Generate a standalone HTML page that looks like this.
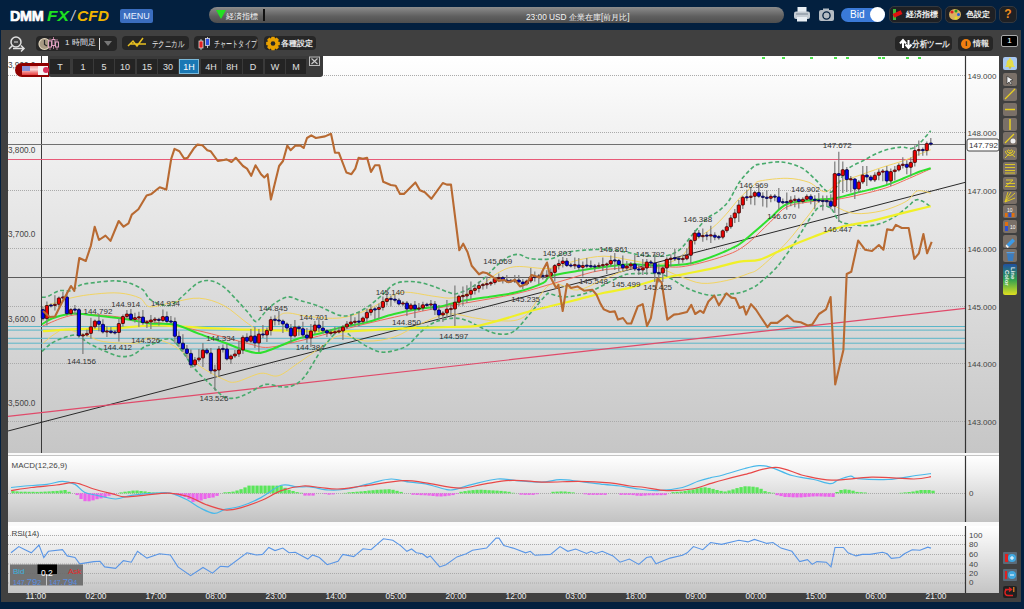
<!DOCTYPE html>
<html><head><meta charset="utf-8">
<style>
*{margin:0;padding:0;box-sizing:border-box}
html,body{width:1024px;height:609px;overflow:hidden;background:#03203f;font-family:"Liberation Sans",sans-serif}
.a{position:absolute}
#tb{left:1px;top:30px;width:1020px;height:572px;background:#404040}
#gap{left:8px;top:56px;width:991px;height:537px;background:#fafafa}
.panel{position:absolute;left:8px;width:991px}
#main{top:56px;height:397px;background:linear-gradient(#ffffff,#f4f4f4 15%,#c6c6c6)}
#macd{top:456px;height:66px;background:linear-gradient(#ffffff 0%,#f2f2f2 25%,#c2c2c2 100%)}
#rsi{top:526px;height:67px;background:linear-gradient(#ffffff 0%,#f0f0f0 25%,#c4c4c4 100%)}
.btn{position:absolute;background:#262626;border-radius:4px;color:#e8e8e8;font-size:10px;line-height:16px;white-space:nowrap;font-weight:bold}
.hb{position:absolute;background:#1e2024;border:1px solid #34383e;border-radius:5px;color:#f0f0f0;font-size:10px;white-space:nowrap;font-weight:bold}
.tf{position:absolute;top:59px;height:15px;width:20px;background:#242424;color:#e0e0e0;font-size:9px;line-height:16.5px;text-align:center}
.rt{position:absolute;left:1003px;width:14px;height:13px;background:#7a7068;border-radius:2px}
svg{position:absolute;left:0;top:0}
.ax{font-size:8.5px;fill:#333}
</style></head><body>
<!-- header -->
<div class="a" style="left:10px;top:6px;font-size:14.4px;font-weight:bold;line-height:20px;color:#fff;-webkit-text-stroke:0.7px #fff;letter-spacing:-0.3px">DMM</div>
<div class="a" style="left:47px;top:6px;font-size:14.4px;font-weight:bold;font-style:italic;line-height:20px;color:#1ee01e;transform:scaleX(1.2);transform-origin:left">FX</div>
<div class="a" style="left:71px;top:6px;font-size:14.4px;font-style:italic;line-height:20px;color:#c8c8d0">/</div>
<div class="a" style="left:77px;top:6px;font-size:14.4px;font-weight:bold;font-style:italic;line-height:20px;color:#f0b400;transform:scaleX(1.08);transform-origin:left">CFD</div>
<div class="a" style="left:120px;top:9px;width:33px;height:14px;background:#3a6dbf;border-radius:2px;color:#e8f0ff;font-size:9px;line-height:14px;text-align:center">MENU</div>
<div class="a" style="left:209px;top:7px;width:575px;height:16px;border-radius:8px;background:linear-gradient(#8c8c8c,#5e5e5e 60%,#4e4e4e);"></div>
<div class="a" style="left:216px;top:10px;width:0;height:0;border-left:5px solid transparent;border-right:5px solid transparent;border-top:9px solid #22e022"></div>
<div class="a" style="left:226px;top:11px;color:#f4f4f4;font-size:8px;line-height:12px">経済指標</div>
<div class="a" style="left:263px;top:9px;width:1.5px;height:12px;background:#111"></div>
<div class="a" style="left:526px;top:11px;color:#f4f4f4;font-size:8.3px;line-height:12px;white-space:nowrap">23:00 USD 企業在庫[前月比]</div>
<!-- printer -->
<svg width="1024" height="609" style="z-index:2">
<rect x="797.5" y="7" width="9" height="5" fill="#e8eef4"/>
<rect x="794" y="11.5" width="16" height="7.5" rx="2" fill="#c4ccd4"/>
<rect x="796" y="13.5" width="12" height="1" fill="#7a8694"/>
<rect x="797" y="17" width="10" height="4.5" fill="#e8eef4"/>
<rect x="819" y="10" width="15" height="11" rx="2" fill="#b4bcc4"/>
<rect x="823" y="8.5" width="6" height="2" fill="#b4bcc4"/>
<circle cx="826.5" cy="15.5" r="3.6" fill="none" stroke="#03203f" stroke-width="1.3"/>
<circle cx="826.5" cy="15.5" r="2" fill="#b4bcc4"/>
<ellipse cx="955" cy="14.5" rx="6" ry="5.5" fill="#d8b060"/>
<circle cx="952" cy="12" r="1.6" fill="#e02020"/><circle cx="956" cy="11" r="1.5" fill="#20a020"/><circle cx="958.5" cy="14.5" r="1.5" fill="#2060e0"/><circle cx="956" cy="18" r="1.5" fill="#e0e020"/>
</svg>
<!-- bid toggle -->
<div class="a" style="left:841px;top:8px;width:44px;height:14px;border-radius:7px;background:#3a7ad8;color:#fff;font-size:10px;line-height:14px;padding-left:9px">Bid</div>
<div class="a" style="left:870px;top:7px;width:15px;height:15px;border-radius:50%;background:#fff"></div>
<div class="hb" style="left:889px;top:6px;width:53px;height:17px;line-height:15px;padding-left:16px;font-size:8.2px">経済指標</div>
<div class="a" style="left:893px;top:9px;width:3px;height:11px;background:#3cb83c"></div>
<div class="a" style="left:893px;top:12px;width:9px;height:4px;background:#e01010;transform:rotate(-25deg)"></div>
<div class="hb" style="left:945px;top:6px;width:51px;height:17px;line-height:15px;padding-left:20px;font-size:8.2px">色設定</div>

<div class="hb" style="left:999px;top:6px;width:18px;height:17px;line-height:15px;text-align:center;color:#f08c1e;font-weight:bold;font-size:12px">?</div>

<div id="tb" class="a"></div>
<!-- toolbar -->
<svg width="1024" height="609" style="z-index:2">
<g fill="none" stroke="#e0e0e0" stroke-width="1.5">
<circle cx="16" cy="42" r="5"/><path d="M12.5 45.5L9 49M13 48.5H24M21 45.5L24 48.5L21 51.5"/><path d="M14 42H18" stroke-width="1"/>
</g>
</svg>
<div class="btn" style="left:36px;top:36px;width:81px;height:15px"></div>
<svg width="1024" height="609" style="z-index:3">
<circle cx="44.5" cy="44" r="5.5" fill="#a89a84" stroke="#e0d4bc" stroke-width="1.2"/>
<path d="M44.5 40V44.5L47 46" stroke="#2a2a2a" stroke-width="1.2" fill="none"/>
<path d="M50 38.5V50M53.5 37V49M57 39V50" stroke="#d890b0" stroke-width="0.8"/>
<rect x="48.5" y="41" width="3" height="6" fill="#2a2a2a" stroke="#e0a0c0" stroke-width="1"/>
<rect x="52" y="39.5" width="3" height="6" fill="#2a2a2a" stroke="#e0a0c0" stroke-width="1"/>
<rect x="55.5" y="42" width="3" height="5" fill="#2a2a2a" stroke="#e0a0c0" stroke-width="1"/>
</svg>
<div class="a" style="left:65px;top:36px;color:#e4e8f0;font-size:8px;line-height:14px;z-index:3;white-space:nowrap">1 時間足</div>
<div class="a" style="left:99px;top:38px;width:1px;height:12px;background:#ddd;z-index:3"></div>
<div class="a" style="left:104px;top:41px;width:0;height:0;border-left:4.5px solid transparent;border-right:4.5px solid transparent;border-top:5px solid #777;z-index:3"></div>
<div class="btn" style="left:122px;top:36px;width:67px;height:14px;padding-left:30px;font-size:8.5px;font-weight:normal"><span style="display:inline-block;transform:scaleX(0.72);transform-origin:left">テクニカル</span></div>
<svg width="1024" height="609" style="z-index:3"><path d="M128 46L133 41L137 46L143 38M130 44L146 44" stroke="#e8c020" stroke-width="1.5" fill="none"/>
<path d="M201 39V50M207.5 37V48" stroke="#ddd" stroke-width="0.8"/><rect x="199" y="41" width="4" height="7" fill="#e02020" stroke="#eee" stroke-width="0.7"/><rect x="205.5" y="38.5" width="4" height="7" fill="#3050e0" stroke="#eee" stroke-width="0.7"/>
<polygon points="279.83,41.97 279.83,45.03 277.50,45.67 277.72,45.15 278.91,47.25 276.75,49.41 274.65,48.22 275.17,48.00 274.53,50.33 271.47,50.33 270.83,48.00 271.35,48.22 269.25,49.41 267.09,47.25 268.28,45.15 268.50,45.67 266.17,45.03 266.17,41.97 268.50,41.33 268.28,41.85 267.09,39.75 269.25,37.59 271.35,38.78 270.83,39.00 271.47,36.67 274.53,36.67 275.17,39.00 274.65,38.78 276.75,37.59 278.91,39.75 277.72,41.85 277.50,41.33" fill="#e8a000"/><circle cx="273" cy="43.5" r="2.3" fill="#262626"/>
</svg>
<div class="btn" style="left:194px;top:36px;width:64px;height:14px;padding-left:20px;font-size:8.5px;font-weight:normal"><span style="display:inline-block;transform:scaleX(0.68);transform-origin:left">チャートタイプ</span></div>
<div class="btn" style="left:264px;top:36px;width:52px;height:14px;padding-left:17px;font-size:8px">各種設定</div>
<div class="btn" style="left:895px;top:36px;width:57px;height:15px;padding-left:17px;font-size:8.5px"><span style="display:inline-block;transform:scaleX(0.84);transform-origin:left">分析ツール</span></div>
<svg width="1024" height="609" style="z-index:3"><path d="M903 48V41M900 43.5L903 40L906 43.5M908.5 40V47M905.5 44.5L908.5 48L911.5 44.5" stroke="#fff" stroke-width="2" fill="none"/></svg>
<div class="btn" style="left:958px;top:36px;width:35px;height:15px;padding-left:15px;font-size:8px">情報</div>
<div class="a" style="left:961px;top:39px;width:10px;height:10px;border-radius:50%;background:#f08010;color:#222;font-size:8px;font-weight:bold;line-height:10px;text-align:center;z-index:3">i</div>
<div class="a" style="left:1001px;top:35px;width:17px;height:12px;background:#000;border:1.5px solid #aaa;border-radius:2px;color:#fff;font-size:8px;line-height:9px;text-align:center">1</div>

<div id="gap" class="a"></div>
<div class="a" style="left:8px;top:455px;width:991px;height:1px;background:#c4c4c4"></div>
<div id="main" class="panel"></div>
<div id="macd" class="panel"></div>
<div id="rsi" class="panel"></div>

<svg width="1024" height="609" viewBox="0 0 1024 609">
<!-- grid -->
<g stroke="#aaaaaa" stroke-width="1" stroke-dasharray="1 1">
<path d="M8 75.5H965M8 132.5H965M8 190.5H965M8 248.5H965M8 306.5H965M8 363.5H965M8 421.5H965"/>
<path d="M8 493.5H965M8 535.5H965M8 544.5H965M8 554.5H965M8 564H965M8 573.5H965M8 583H965"/>
</g>
<path d="M41.5 56V453" stroke="#3a3a3a" stroke-width="1"/>
<path d="M8 144.5H965" stroke="#707070" stroke-width="1"/>
<path d="M8 159.5H965" stroke="#e85a78" stroke-width="1"/>
<path d="M8 277.5H965" stroke="#5a5a5a" stroke-width="1.2"/>
<g stroke="#5ab6c8" stroke-width="1"><path d="M8 326.5H965M8 330.1H965M8 338.3H965M8 343.2H965M8 349H965"/></g>
<path d="M8 431L965 182.4" stroke="#2a2a2a" stroke-width="1"/>
<path d="M8 416.4L965 308.4" stroke="#e04a6a" stroke-width="1.2"/>
<!-- bands & MAs -->
<path d="M44.6 306.3C49.0 304.9 62.3 300.1 70.8 298.0C79.3 295.9 87.3 294.8 95.5 294.0C103.7 293.2 112.6 292.4 120.0 293.1C127.4 293.8 134.8 295.7 139.8 298.0C144.8 300.3 144.2 306.2 150.0 306.8C155.8 307.4 166.4 303.3 174.6 301.9C182.8 300.5 191.1 297.6 199.3 298.2C207.5 298.8 215.7 301.3 223.9 305.6C232.1 309.9 241.9 319.7 248.5 324.0C255.1 328.3 258.4 332.6 263.3 331.4C268.2 330.2 274.0 319.8 278.1 316.7C282.2 313.6 282.6 313.0 287.9 313.0C293.2 313.0 301.4 315.9 310.1 316.7C318.8 317.5 330.5 319.1 340.0 318.0C349.5 316.9 358.1 313.8 367.1 310.0C376.1 306.2 387.4 297.9 394.2 295.0C401.0 292.1 401.0 292.1 407.8 292.3C414.6 292.5 427.2 295.5 434.9 296.4C442.6 297.3 447.0 298.9 453.8 297.8C460.6 296.7 468.3 293.7 475.5 289.6C482.7 285.5 490.4 277.2 497.2 273.4C504.0 269.6 507.4 267.4 516.2 266.6C525.0 265.8 539.9 269.4 550.0 268.4C560.1 267.3 568.1 262.3 577.1 260.3C586.1 258.3 595.2 256.2 604.2 256.2C613.2 256.2 622.3 258.9 631.3 260.3C640.3 261.7 650.3 264.8 658.4 264.3C666.5 263.9 674.2 261.4 680.1 257.6C686.0 253.8 688.2 246.3 693.6 241.3C699.0 236.3 707.2 232.2 712.6 227.7C718.0 223.2 721.7 219.1 726.2 214.2C730.7 209.2 735.2 202.8 739.7 198.0C744.2 193.2 749.9 188.5 753.3 185.7C756.7 182.9 754.4 182.2 760.0 181.0C765.6 179.8 779.0 178.1 787.1 178.3C795.2 178.5 802.5 180.1 808.8 182.3C815.1 184.6 820.0 191.8 825.0 191.8C830.0 191.8 833.6 184.8 838.6 182.3C843.6 179.8 847.7 179.4 854.9 176.9C862.1 174.4 873.9 170.1 882.0 167.4C890.1 164.7 897.3 162.9 903.6 160.7C909.9 158.4 915.4 155.7 919.9 153.9C924.4 152.1 928.9 150.5 930.7 149.8" fill="none" stroke="#f2d462" stroke-width="1"/>
<path d="M43.0 343.2C44.9 341.7 50.6 336.5 54.4 334.2C58.2 331.9 60.4 329.0 65.9 329.3C71.4 329.6 81.0 333.8 87.3 335.8C93.6 337.9 95.5 340.4 103.7 341.6C111.9 342.8 128.8 343.8 136.5 343.2C144.2 342.6 143.7 337.5 150.0 338.0C156.3 338.5 166.4 341.6 174.6 346.2C182.8 350.8 191.1 360.3 199.3 365.9C207.5 371.4 217.8 376.8 223.9 379.5C230.1 382.2 230.0 382.9 236.2 381.9C242.3 380.9 253.8 374.3 260.8 373.3C267.8 372.3 271.9 377.5 278.1 375.8C284.3 374.1 290.4 368.3 297.8 363.4C305.2 358.5 315.4 350.8 322.4 346.2C329.4 341.6 332.6 336.5 340.0 335.7C347.4 334.9 358.1 340.9 367.1 341.1C376.1 341.3 385.2 339.9 394.2 337.0C403.2 334.1 412.3 327.3 421.3 323.5C430.3 319.7 439.4 314.9 448.4 314.0C457.4 313.1 467.4 317.0 475.5 318.1C483.6 319.2 489.1 321.0 497.2 320.8C505.3 320.6 515.5 322.7 524.3 316.7C533.1 310.7 541.2 289.1 550.0 284.7C558.8 280.2 568.1 290.9 577.1 290.0C586.1 289.1 595.2 282.8 604.2 279.2C613.2 275.6 622.3 270.2 631.3 268.4C640.3 266.6 650.3 267.0 658.4 268.4C666.5 269.8 672.9 274.0 680.1 276.5C687.3 279.0 694.1 282.6 701.8 283.3C709.5 284.0 718.5 282.2 726.2 280.6C733.9 279.0 742.2 276.0 747.8 273.8C753.4 271.6 753.5 273.0 760.0 267.7C766.5 262.4 779.0 250.8 787.1 242.0C795.2 233.2 802.9 222.1 808.8 214.9C814.7 207.7 817.8 200.0 822.3 198.6C826.8 197.2 830.5 204.2 835.9 206.7C841.3 209.2 847.2 212.8 854.9 213.5C862.6 214.2 873.4 212.8 882.0 210.8C890.6 208.8 900.4 204.6 906.3 201.3C912.2 198.0 913.1 192.3 917.2 191.0C921.3 189.7 928.5 192.8 930.7 193.2" fill="none" stroke="#f2d462" stroke-width="1"/>
<path d="M42.0 297.2C43.0 297.1 45.0 297.5 47.9 296.4C50.8 295.3 55.5 291.6 59.3 290.7C63.1 289.8 67.2 291.7 70.8 290.7C74.4 289.7 76.6 286.3 80.7 284.9C84.8 283.5 89.8 283.2 95.5 282.5C101.2 281.8 109.5 280.7 115.2 280.8C121.0 280.9 125.4 281.8 130.0 283.3C134.6 284.8 139.7 287.2 143.0 289.9C146.3 292.6 146.4 296.8 150.0 299.4C153.6 302.0 160.7 305.0 164.8 305.6C168.9 306.2 170.9 305.4 174.6 303.1C178.3 300.8 182.9 295.5 187.0 292.0C191.1 288.5 195.2 284.0 199.3 282.2C203.4 280.4 207.5 280.2 211.6 281.0C215.7 281.8 219.8 284.0 223.9 287.1C228.0 290.2 232.1 295.1 236.2 299.4C240.3 303.7 245.2 309.3 248.5 313.0C251.8 316.7 253.4 321.4 255.9 321.6C258.4 321.8 260.4 317.1 263.3 314.2C266.2 311.3 269.1 307.2 273.2 304.3C277.3 301.4 283.4 297.6 287.9 297.0C292.4 296.4 295.3 299.2 300.2 300.6C305.1 302.0 310.9 303.1 317.5 305.6C324.1 308.1 334.0 314.0 340.0 315.4C346.0 316.8 349.1 315.4 353.6 314.0C358.1 312.6 362.6 310.1 367.1 307.2C371.6 304.3 376.1 300.2 380.6 296.4C385.1 292.6 389.7 286.7 394.2 284.2C398.7 281.7 403.3 281.7 407.8 281.5C412.3 281.3 416.8 281.9 421.3 282.8C425.8 283.7 430.4 285.3 434.9 286.9C439.4 288.5 444.8 291.2 448.4 292.3C452.0 293.4 452.9 294.4 456.5 293.7C460.1 293.0 465.5 290.8 470.0 288.3C474.5 285.8 479.1 282.7 483.6 278.8C488.1 274.9 493.1 268.8 497.2 265.2C501.3 261.6 504.4 258.9 508.0 257.1C511.6 255.3 515.3 254.2 518.9 254.4C522.5 254.6 524.5 257.7 529.7 258.5C534.9 259.3 544.4 259.8 550.0 259.0C555.6 258.2 559.1 254.9 563.6 253.5C568.1 252.1 570.3 251.5 577.1 250.8C583.9 250.1 596.1 249.2 604.2 249.4C612.3 249.6 620.0 251.2 625.9 252.1C631.8 253.0 634.0 254.2 639.4 254.9C644.8 255.6 653.4 256.2 658.4 256.2C663.4 256.2 665.6 256.0 669.2 254.9C672.8 253.8 676.0 253.0 680.1 249.4C684.2 245.8 689.1 238.4 693.6 233.2C698.1 228.0 703.1 221.9 707.2 218.3C711.3 214.7 714.4 214.4 718.0 211.5C721.6 208.6 725.3 205.7 728.9 200.7C732.5 195.7 735.6 187.3 739.7 181.7C743.8 176.0 749.7 169.8 753.3 166.8C756.9 163.9 756.7 164.8 761.4 164.0C766.1 163.2 775.2 161.4 781.7 162.0C788.2 162.6 795.3 164.7 800.7 167.4C806.1 170.1 809.7 174.2 814.2 178.3C818.7 182.4 824.2 190.2 827.8 191.8C831.4 193.4 832.8 191.3 835.9 187.7C839.0 184.1 842.2 174.6 846.7 170.1C851.2 165.6 857.1 163.8 863.0 160.7C868.9 157.5 875.7 153.5 882.0 151.2C888.3 148.9 895.9 147.5 900.9 147.1C905.9 146.7 908.6 149.2 911.8 148.5C915.0 147.8 916.8 145.9 919.9 143.0C923.0 140.1 928.9 132.8 930.7 130.8" fill="none" stroke="#48aa6c" stroke-width="1.6" stroke-dasharray="4 2.5"/>
<path d="M42.0 351.4C44.1 349.8 48.8 344.3 54.4 341.6C60.0 338.9 70.3 334.9 75.8 335.0C81.3 335.1 82.6 339.8 87.3 342.4C92.0 345.0 98.2 348.3 103.7 350.6C109.2 352.9 115.1 355.7 120.0 356.4C124.9 357.1 129.1 356.3 133.2 354.7C137.3 353.1 141.9 348.1 144.7 346.5C147.5 344.9 145.8 346.3 150.0 345.0C154.2 343.7 164.4 337.8 169.7 338.8C175.0 339.8 177.9 346.2 182.0 351.1C186.1 356.0 189.4 362.6 194.3 368.4C199.2 374.1 206.7 380.9 211.6 385.6C216.5 390.3 219.8 394.6 223.9 396.7C228.0 398.8 232.1 398.5 236.2 397.9C240.3 397.3 243.6 395.2 248.5 393.0C253.4 390.8 260.5 385.4 265.8 384.4C271.1 383.4 276.0 386.6 280.5 386.8C285.0 387.0 288.8 387.4 292.9 385.6C297.0 383.8 300.3 382.0 305.2 375.8C310.1 369.6 316.6 356.3 322.4 348.7C328.2 341.1 334.8 332.0 340.0 330.3C345.2 328.6 349.1 335.7 353.6 338.4C358.1 341.1 362.6 344.2 367.1 346.5C371.6 348.8 376.1 351.3 380.6 352.0C385.1 352.7 389.7 351.7 394.2 350.6C398.7 349.5 403.3 348.4 407.8 345.2C412.3 342.0 416.8 335.5 421.3 331.6C425.8 327.8 429.5 324.4 434.9 322.1C440.3 319.9 448.4 318.3 453.8 318.1C459.2 317.9 462.9 319.2 467.4 320.8C471.9 322.4 476.0 325.4 481.0 327.6C486.0 329.8 491.8 333.1 497.2 333.8C502.6 334.5 508.0 334.9 513.4 331.6C518.8 328.3 524.3 320.1 529.7 314.0C535.1 307.9 542.6 298.3 546.0 295.0C549.4 291.7 547.1 293.8 550.0 294.1C552.9 294.4 559.1 296.7 563.6 296.9C568.1 297.1 572.6 296.4 577.1 295.5C581.6 294.6 586.2 293.2 590.7 291.4C595.2 289.6 599.2 287.2 604.2 284.7C609.2 282.2 616.0 278.3 620.5 276.5C625.0 274.7 625.0 274.2 631.3 273.8C637.6 273.4 651.6 272.9 658.4 273.8C665.2 274.7 667.5 276.9 672.0 279.2C676.5 281.5 681.0 285.1 685.5 287.4C690.0 289.7 694.5 291.4 699.0 292.8C703.5 294.2 708.1 295.3 712.6 295.5C717.1 295.7 721.7 294.6 726.2 294.1C730.7 293.7 735.2 293.9 739.7 292.8C744.2 291.7 749.9 289.1 753.3 287.4C756.7 285.7 756.2 285.9 760.0 282.6C763.8 279.3 770.4 274.5 776.3 267.7C782.2 260.9 789.8 249.9 795.2 242.0C800.6 234.1 804.7 226.2 808.8 220.3C812.9 214.4 816.0 208.7 819.6 206.7C823.2 204.7 827.3 205.8 830.5 208.1C833.7 210.4 835.5 217.6 838.6 220.3C841.8 223.0 844.4 223.4 849.4 224.3C854.4 225.2 863.0 225.9 868.4 225.7C873.8 225.5 877.5 224.6 882.0 223.0C886.5 221.4 891.2 218.9 895.5 216.2C899.8 213.5 904.3 209.4 907.7 206.7C911.1 204.0 913.3 200.8 915.8 199.9C918.3 199.0 920.1 200.2 922.6 201.3C925.1 202.4 929.4 205.8 930.7 206.7" fill="none" stroke="#48aa6c" stroke-width="1.6" stroke-dasharray="4 2.5"/>
<path d="M42.9 331.2C47.5 330.9 59.3 329.8 70.8 329.3C82.3 328.8 98.2 329.0 111.9 328.4C125.6 327.8 138.4 325.6 153.0 325.5C167.6 325.4 183.4 327.0 199.3 327.7C215.2 328.4 232.1 329.2 248.5 329.7C264.9 330.2 282.6 330.6 297.8 330.9C313.1 331.2 323.9 331.9 340.0 331.6C356.1 331.3 376.1 329.7 394.2 328.9C412.3 328.1 434.8 327.4 448.4 327.0C461.9 326.6 466.5 327.5 475.5 326.2C484.5 324.9 493.6 321.9 502.6 319.4C511.6 316.9 521.8 313.5 529.7 311.3C537.6 309.1 542.1 308.2 550.0 306.3C557.9 304.4 568.1 301.9 577.1 299.6C586.1 297.4 595.2 294.8 604.2 292.8C613.2 290.8 622.3 289.7 631.3 287.4C640.3 285.1 649.4 281.5 658.4 279.2C667.4 276.9 676.5 275.6 685.5 273.8C694.5 272.0 703.6 270.4 712.6 268.4C721.6 266.4 731.8 263.1 739.7 261.6C747.6 260.1 752.1 262.0 760.0 259.6C767.9 257.2 778.1 251.2 787.1 247.4C796.1 243.6 805.2 239.9 814.2 236.5C823.2 233.1 832.3 229.5 841.3 227.0C850.3 224.5 859.4 223.6 868.4 221.6C877.4 219.6 885.1 217.5 895.5 214.9C905.9 212.3 924.8 207.6 930.7 206.2" fill="none" stroke="#f0f028" stroke-width="2.2"/>
<path d="M42.9 326.0C46.2 324.6 56.6 319.7 62.6 317.8C68.6 315.9 72.2 314.9 79.0 314.5C85.8 314.1 94.1 314.5 103.7 315.3C113.3 316.1 128.3 318.3 136.5 319.4C144.7 320.5 146.7 320.9 153.0 321.9C159.3 322.9 164.8 323.3 174.6 325.3C184.4 327.3 199.3 330.8 211.6 333.9C223.9 337.0 239.1 341.4 248.5 343.7C257.9 345.9 260.0 347.8 268.2 347.4C276.4 347.0 288.8 343.4 297.8 341.3C306.8 339.2 310.8 338.1 322.4 335.1C333.9 332.1 350.6 327.5 367.1 323.5C383.6 319.5 405.0 314.7 421.3 311.3C437.6 307.9 448.9 306.1 464.7 303.2C480.5 300.3 500.3 297.3 516.2 293.7C532.1 290.1 545.3 285.5 560.0 281.5C574.7 277.5 587.8 272.2 604.2 269.8C620.6 267.4 644.9 267.6 658.4 267.0C671.9 266.4 674.7 268.0 685.5 266.2C696.3 264.4 713.5 259.7 723.4 256.2C733.3 252.7 737.3 251.1 745.1 245.4C752.9 239.8 763.0 228.8 770.0 222.3C777.0 215.9 779.7 210.2 787.1 206.7C794.5 203.2 805.2 202.7 814.2 201.3C823.2 200.0 830.0 200.6 841.3 198.6C852.6 196.6 871.2 192.3 882.0 189.1C892.8 185.9 898.2 183.0 906.3 179.6C914.4 176.2 926.6 170.6 930.7 168.8" fill="none" stroke="#f06a5a" stroke-width="1"/>
<path d="M42.0 324.3C43.8 323.3 47.9 320.1 52.5 318.3C57.1 316.6 65.2 314.6 69.6 313.8C74.0 313.1 72.9 313.4 78.8 313.8C84.7 314.2 96.2 315.5 105.0 316.5C113.8 317.5 123.8 318.7 131.3 319.9C138.8 321.1 142.8 322.7 150.0 323.5C157.2 324.3 166.4 322.8 174.6 324.5C182.8 326.2 191.1 330.9 199.3 333.9C207.5 336.9 216.5 339.8 223.9 342.5C231.3 345.2 237.8 348.1 243.6 349.9C249.3 351.7 253.5 353.3 258.4 353.1C263.3 352.9 266.6 351.1 273.2 348.7C279.8 346.3 289.6 341.5 297.8 338.8C306.0 336.1 315.4 334.6 322.4 332.7C329.4 330.8 332.6 329.4 340.0 327.6C347.4 325.8 358.1 324.4 367.1 322.1C376.1 319.8 385.2 316.2 394.2 314.0C403.2 311.8 413.2 310.0 421.3 308.6C429.4 307.2 435.8 307.2 443.0 305.9C450.2 304.5 456.6 302.1 464.7 300.5C472.8 298.9 483.2 297.8 491.8 296.4C500.4 295.0 507.6 294.6 516.2 292.3C524.8 290.0 537.7 285.4 543.3 282.8C548.9 280.2 544.4 278.4 550.0 276.5C555.6 274.6 568.1 272.7 577.1 271.1C586.1 269.5 595.2 268.1 604.2 267.0C613.2 265.9 622.3 264.5 631.3 264.3C640.3 264.1 649.4 265.7 658.4 265.7C667.4 265.7 678.3 265.2 685.5 264.3C692.7 263.4 695.5 262.3 701.8 260.3C708.1 258.3 717.1 254.8 723.4 252.1C729.7 249.4 734.3 247.6 739.7 244.0C745.1 240.4 751.0 234.8 756.0 230.5C761.0 226.2 764.8 222.7 770.0 218.3C775.2 213.9 779.7 207.1 787.1 204.0C794.5 200.9 806.5 200.8 814.2 199.9C821.9 199.0 826.4 199.7 833.2 198.6C840.0 197.5 846.8 195.2 854.9 193.2C863.0 191.2 873.9 188.9 882.0 186.4C890.1 183.9 897.3 180.8 903.6 178.3C909.9 175.8 915.4 173.2 919.9 171.5C924.4 169.8 928.9 168.8 930.7 168.2" fill="none" stroke="#2ee02e" stroke-width="2"/>
<path d="M42.9 306.6V320.6M46.9 301.5V325.6M50.9 303.4V307.6M54.9 295.3V310.5M58.9 296.5V307.3M62.9 291.9V299.6M66.9 292.0V315.7M70.9 308.1V315.2M74.9 305.0V314.2M78.9 308.1V337.8M82.9 333.3V353.9M86.9 329.4V336.5M90.9 317.8V338.4M94.9 319.5V328.8M98.9 314.0V331.3M102.9 319.3V333.5M106.9 325.9V337.1M110.9 327.0V334.0M114.9 329.9V334.6M118.9 318.5V341.5M122.9 314.5V326.5M126.9 310.0V318.5M130.9 309.0V320.9M134.9 312.7V322.4M138.9 311.8V327.0M142.9 310.0V324.7M146.9 320.2V327.9M150.9 315.0V328.9M154.9 317.1V323.3M158.9 317.8V325.6M162.9 309.6V322.0M166.9 311.6V323.0M170.9 315.9V324.1M174.9 317.5V343.3M178.9 331.3V347.2M182.9 334.2V352.0M186.9 345.0V358.4M190.9 349.4V367.9M194.9 356.9V366.9M198.9 349.0V361.9M202.9 343.0V367.0M206.9 348.0V354.5M210.9 348.0V373.8M214.9 364.8V390.5M218.9 346.0V377.0M222.9 344.4V352.6M226.9 344.0V360.5M230.9 354.5V364.0M234.9 350.0V358.0M238.9 341.0V357.0M242.9 335.3V354.0M246.9 333.3V342.7M250.9 329.0V342.7M254.9 327.0V348.0M258.9 329.0V352.0M262.9 324.9V338.1M266.9 327.4V342.0M270.9 316.6V335.4M274.9 315.2V325.4M278.9 310.9V325.1M282.9 319.5V333.0M286.9 322.5V331.0M290.9 324.0V343.0M294.9 320.0V337.5M298.9 325.5V335.7M302.9 321.7V338.0M306.9 328.0V343.0M310.9 324.0V347.0M314.9 321.0V334.0M318.9 318.0V332.0M322.9 321.0V333.7M326.9 329.2V337.0M330.9 329.2V335.5M334.9 326.8V334.5M338.9 326.9V333.6M342.9 325.0V340.0M346.9 321.0V329.0M350.9 315.0V326.0M354.9 317.2V326.4M358.9 312.0V326.2M362.9 316.5V323.6M366.9 308.4V322.0M370.9 304.4V315.4M374.9 306.8V319.0M378.9 303.4V318.4M382.9 296.5V310.4M386.9 291.6V305.5M390.9 295.4V306.6M394.9 295.1V302.4M398.9 298.2V305.5M402.9 300.9V306.1M406.9 301.0V316.0M410.9 303.0V310.5M414.9 301.0V318.0M418.9 302.9V311.1M422.9 301.8V311.0M426.9 302.8V307.5M430.9 299.9V310.1M434.9 301.0V315.0M438.9 305.0V318.0M442.9 311.0V322.0M446.9 300.1V318.0M450.9 303.4V316.7M454.9 285.5V325.9M458.9 294.8V306.2M462.9 286.5V305.8M466.9 285.3V303.0M470.9 281.4V299.3M474.9 284.4V294.4M478.9 281.5V292.4M482.9 282.9V289.6M486.8 276.6V288.8M490.8 281.0V285.9M494.8 277.1V284.5M498.8 273.5V280.7M502.8 276.1V283.5M506.8 275.1V282.9M510.8 278.9V283.1M514.8 274.9V283.1M518.8 275.0V283.5M522.8 279.0V289.0M526.8 279.5V285.5M530.8 268.0V283.0M534.8 271.4V281.6M538.8 273.9V284.1M542.8 272.4V279.6M546.8 270.2V279.5M550.8 268.4V277.2M554.8 264.0V281.4M558.8 259.5V269.5M562.8 257.0V267.5M566.8 258.0V267.0M570.8 262.9V267.6M574.8 257.6V268.9M578.8 258.0V270.4M582.8 261.5V276.4M586.8 258.1V268.3M590.8 260.6V268.3M594.8 263.9V272.1M598.8 262.4V268.6M602.8 257.6V270.9M606.8 262.4V274.1M610.8 255.5V267.0M614.8 252.9V270.1M618.8 259.0V271.5M622.8 255.5V271.0M626.8 261.0V271.0M630.8 262.0V269.0M634.8 255.0V271.0M638.8 263.9V275.1M642.8 259.0V275.0M646.8 259.0V275.0M650.8 259.9V268.1M654.8 254.0V282.0M658.8 263.4V282.6M662.8 266.0V282.0M666.8 257.3V277.0M670.8 254.2V266.4M674.8 248.7V260.9M678.8 256.2V264.4M682.8 254.4V262.7M686.8 248.3V260.3M690.8 239.0V264.3M694.8 230.0V244.5M698.8 230.0V238.6M702.8 228.5V241.7M706.8 232.0V240.2M710.8 225.8V243.0M714.8 232.2V240.2M718.8 235.1V239.8M722.8 229.2V239.2M726.8 222.7V232.7M730.8 214.9V228.7M734.8 209.0V222.9M738.8 200.0V222.0M742.8 195.8V209.0M746.8 189.7V200.9M750.8 187.2V204.4M754.8 190.9V205.3M758.8 185.4V197.8M762.8 192.2V206.4M766.8 190.2V207.4M770.8 194.3V202.3M774.8 194.0V201.2M778.8 187.9V209.2M782.8 198.6V204.3M786.8 192.6V209.8M790.8 196.2V206.2M794.8 195.2V207.3M798.8 197.8V208.6M802.8 197.3V203.6M806.8 194.3V200.8M810.8 194.3V204.3M814.8 195.2V209.3M818.8 192.9V203.1M822.8 195.4V210.6M826.8 195.6V205.8M830.8 194.2V209.2M834.8 161.4V213.0M838.8 151.8V222.0M842.8 161.4V193.0M846.8 167.0V192.0M850.8 176.0V192.5M854.8 178.0V199.0M858.8 180.0V193.0M862.8 166.0V184.0M866.8 166.0V186.0M870.8 175.0V181.5M874.8 172.2V182.0M878.8 169.2V180.2M882.8 169.0V181.2M886.8 166.0V184.0M890.8 168.6V186.0M894.8 166.0V180.6M898.8 163.3V171.5M902.8 157.2V168.4M906.8 160.3V174.3M910.8 157.4V176.3M914.8 145.5V166.4M918.8 140.5V155.7M922.8 147.5V155.7M926.8 141.6V155.5M930.8 138.0V145.7" stroke="#7a7a7a" stroke-width="1.2" fill="none"/>
<g fill="#ee0000" stroke="#300000" stroke-width="0.8"><rect x="45.3" y="305.5" width="3.2" height="13.1" rx="0.6"/><rect x="53.3" y="304.3" width="3.2" height="1.2" rx="0.6"/><rect x="57.3" y="298.0" width="3.2" height="6.3" rx="0.6"/><rect x="61.3" y="296.9" width="3.2" height="1.2" rx="0.6"/><rect x="69.3" y="309.6" width="3.2" height="4.1" rx="0.6"/><rect x="81.3" y="334.8" width="3.2" height="1.2" rx="0.6"/><rect x="85.3" y="333.4" width="3.2" height="1.6" rx="0.6"/><rect x="89.3" y="326.8" width="3.2" height="6.6" rx="0.6"/><rect x="93.3" y="321.0" width="3.2" height="5.8" rx="0.6"/><rect x="105.3" y="330.9" width="3.2" height="1.2" rx="0.6"/><rect x="117.3" y="323.5" width="3.2" height="9.0" rx="0.6"/><rect x="121.3" y="316.5" width="3.2" height="7.0" rx="0.6"/><rect x="125.3" y="314.0" width="3.2" height="2.5" rx="0.6"/><rect x="133.3" y="317.7" width="3.2" height="1.7" rx="0.6"/><rect x="137.3" y="316.8" width="3.2" height="1.2" rx="0.6"/><rect x="145.3" y="321.7" width="3.2" height="1.2" rx="0.6"/><rect x="149.3" y="320.0" width="3.2" height="1.9" rx="0.6"/><rect x="153.3" y="319.1" width="3.2" height="1.2" rx="0.6"/><rect x="161.3" y="316.6" width="3.2" height="3.9" rx="0.6"/><rect x="193.3" y="359.9" width="3.2" height="5.0" rx="0.6"/><rect x="197.3" y="358.0" width="3.2" height="1.9" rx="0.6"/><rect x="201.3" y="350.0" width="3.2" height="8.0" rx="0.6"/><rect x="213.3" y="369.8" width="3.2" height="1.2" rx="0.6"/><rect x="217.3" y="349.0" width="3.2" height="21.0" rx="0.6"/><rect x="229.3" y="356.0" width="3.2" height="3.0" rx="0.6"/><rect x="233.3" y="354.0" width="3.2" height="2.0" rx="0.6"/><rect x="237.3" y="350.0" width="3.2" height="4.0" rx="0.6"/><rect x="241.3" y="337.3" width="3.2" height="12.7" rx="0.6"/><rect x="249.3" y="336.0" width="3.2" height="5.2" rx="0.6"/><rect x="257.3" y="334.0" width="3.2" height="9.0" rx="0.6"/><rect x="265.3" y="330.4" width="3.2" height="4.6" rx="0.6"/><rect x="269.3" y="319.6" width="3.2" height="10.8" rx="0.6"/><rect x="293.3" y="327.0" width="3.2" height="9.0" rx="0.6"/><rect x="309.3" y="331.0" width="3.2" height="7.0" rx="0.6"/><rect x="313.3" y="325.0" width="3.2" height="6.0" rx="0.6"/><rect x="329.3" y="332.2" width="3.2" height="1.2" rx="0.6"/><rect x="333.3" y="331.8" width="3.2" height="1.2" rx="0.6"/><rect x="337.3" y="330.9" width="3.2" height="1.2" rx="0.6"/><rect x="341.3" y="327.0" width="3.2" height="4.0" rx="0.6"/><rect x="345.3" y="324.0" width="3.2" height="3.0" rx="0.6"/><rect x="349.3" y="322.0" width="3.2" height="2.0" rx="0.6"/><rect x="353.3" y="321.2" width="3.2" height="1.2" rx="0.6"/><rect x="361.3" y="318.0" width="3.2" height="3.6" rx="0.6"/><rect x="365.3" y="312.4" width="3.2" height="5.6" rx="0.6"/><rect x="369.3" y="309.4" width="3.2" height="3.0" rx="0.6"/><rect x="377.3" y="307.4" width="3.2" height="2.0" rx="0.6"/><rect x="381.3" y="301.5" width="3.2" height="5.9" rx="0.6"/><rect x="385.3" y="298.6" width="3.2" height="2.9" rx="0.6"/><rect x="401.3" y="302.9" width="3.2" height="1.2" rx="0.6"/><rect x="409.3" y="305.0" width="3.2" height="4.0" rx="0.6"/><rect x="417.3" y="307.9" width="3.2" height="1.2" rx="0.6"/><rect x="421.3" y="304.8" width="3.2" height="3.2" rx="0.6"/><rect x="429.3" y="303.9" width="3.2" height="1.2" rx="0.6"/><rect x="441.3" y="313.0" width="3.2" height="2.0" rx="0.6"/><rect x="445.3" y="309.1" width="3.2" height="3.9" rx="0.6"/><rect x="449.3" y="308.4" width="3.2" height="1.2" rx="0.6"/><rect x="453.3" y="302.2" width="3.2" height="6.8" rx="0.6"/><rect x="457.3" y="296.3" width="3.2" height="5.9" rx="0.6"/><rect x="461.3" y="295.5" width="3.2" height="1.2" rx="0.6"/><rect x="465.3" y="294.3" width="3.2" height="1.7" rx="0.6"/><rect x="469.3" y="290.4" width="3.2" height="3.9" rx="0.6"/><rect x="473.3" y="288.4" width="3.2" height="2.0" rx="0.6"/><rect x="477.3" y="285.5" width="3.2" height="2.9" rx="0.6"/><rect x="481.3" y="284.4" width="3.2" height="1.2" rx="0.6"/><rect x="485.2" y="283.6" width="3.2" height="1.2" rx="0.6"/><rect x="489.2" y="282.5" width="3.2" height="1.4" rx="0.6"/><rect x="493.2" y="278.6" width="3.2" height="3.9" rx="0.6"/><rect x="497.2" y="277.5" width="3.2" height="1.2" rx="0.6"/><rect x="513.2" y="279.9" width="3.2" height="1.2" rx="0.6"/><rect x="525.2" y="281.0" width="3.2" height="3.0" rx="0.6"/><rect x="529.2" y="277.0" width="3.2" height="4.0" rx="0.6"/><rect x="537.2" y="275.9" width="3.2" height="1.2" rx="0.6"/><rect x="545.2" y="275.2" width="3.2" height="1.2" rx="0.6"/><rect x="549.2" y="272.4" width="3.2" height="3.3" rx="0.6"/><rect x="553.2" y="265.5" width="3.2" height="6.9" rx="0.6"/><rect x="557.2" y="263.5" width="3.2" height="2.0" rx="0.6"/><rect x="561.2" y="261.0" width="3.2" height="2.5" rx="0.6"/><rect x="573.2" y="264.6" width="3.2" height="1.2" rx="0.6"/><rect x="581.2" y="265.5" width="3.2" height="1.9" rx="0.6"/><rect x="597.2" y="265.4" width="3.2" height="1.2" rx="0.6"/><rect x="601.2" y="264.6" width="3.2" height="1.2" rx="0.6"/><rect x="605.2" y="263.9" width="3.2" height="1.2" rx="0.6"/><rect x="609.2" y="260.5" width="3.2" height="3.5" rx="0.6"/><rect x="625.2" y="266.0" width="3.2" height="2.0" rx="0.6"/><rect x="629.2" y="264.0" width="3.2" height="2.0" rx="0.6"/><rect x="641.2" y="268.0" width="3.2" height="2.0" rx="0.6"/><rect x="645.2" y="262.0" width="3.2" height="6.0" rx="0.6"/><rect x="661.2" y="268.0" width="3.2" height="5.0" rx="0.6"/><rect x="665.2" y="259.3" width="3.2" height="8.7" rx="0.6"/><rect x="669.2" y="258.2" width="3.2" height="1.2" rx="0.6"/><rect x="681.2" y="258.4" width="3.2" height="1.2" rx="0.6"/><rect x="685.2" y="255.3" width="3.2" height="3.5" rx="0.6"/><rect x="689.2" y="240.5" width="3.2" height="14.8" rx="0.6"/><rect x="693.2" y="233.0" width="3.2" height="7.5" rx="0.6"/><rect x="701.2" y="235.5" width="3.2" height="1.2" rx="0.6"/><rect x="709.2" y="234.8" width="3.2" height="1.2" rx="0.6"/><rect x="721.2" y="230.7" width="3.2" height="6.5" rx="0.6"/><rect x="725.2" y="226.7" width="3.2" height="4.0" rx="0.6"/><rect x="729.2" y="217.9" width="3.2" height="8.8" rx="0.6"/><rect x="733.2" y="213.0" width="3.2" height="4.9" rx="0.6"/><rect x="737.2" y="205.0" width="3.2" height="8.0" rx="0.6"/><rect x="741.2" y="197.3" width="3.2" height="7.7" rx="0.6"/><rect x="749.2" y="196.2" width="3.2" height="1.2" rx="0.6"/><rect x="753.2" y="192.4" width="3.2" height="3.9" rx="0.6"/><rect x="769.2" y="196.3" width="3.2" height="2.0" rx="0.6"/><rect x="789.2" y="200.2" width="3.2" height="2.0" rx="0.6"/><rect x="793.2" y="199.2" width="3.2" height="1.2" rx="0.6"/><rect x="801.2" y="199.3" width="3.2" height="2.3" rx="0.6"/><rect x="805.2" y="196.3" width="3.2" height="3.0" rx="0.6"/><rect x="833.2" y="173.6" width="3.2" height="32.6" rx="0.6"/><rect x="841.2" y="169.7" width="3.2" height="5.9" rx="0.6"/><rect x="849.2" y="178.7" width="3.2" height="1.2" rx="0.6"/><rect x="857.2" y="182.0" width="3.2" height="7.0" rx="0.6"/><rect x="861.2" y="175.0" width="3.2" height="7.0" rx="0.6"/><rect x="873.2" y="175.2" width="3.2" height="4.8" rx="0.6"/><rect x="877.2" y="172.2" width="3.2" height="3.0" rx="0.6"/><rect x="881.2" y="171.0" width="3.2" height="1.2" rx="0.6"/><rect x="889.2" y="171.6" width="3.2" height="9.4" rx="0.6"/><rect x="893.2" y="170.0" width="3.2" height="1.6" rx="0.6"/><rect x="897.2" y="165.3" width="3.2" height="4.7" rx="0.6"/><rect x="901.2" y="164.2" width="3.2" height="1.2" rx="0.6"/><rect x="909.2" y="162.4" width="3.2" height="4.9" rx="0.6"/><rect x="913.2" y="150.5" width="3.2" height="11.9" rx="0.6"/><rect x="917.2" y="149.5" width="3.2" height="1.2" rx="0.6"/><rect x="925.2" y="143.6" width="3.2" height="6.9" rx="0.6"/></g>
<g fill="#0000ee" stroke="#000030" stroke-width="0.8"><rect x="41.3" y="309.6" width="3.2" height="9.0" rx="0.6"/><rect x="49.3" y="304.9" width="3.2" height="1.2" rx="0.6"/><rect x="65.3" y="297.0" width="3.2" height="16.7" rx="0.6"/><rect x="73.3" y="309.0" width="3.2" height="1.2" rx="0.6"/><rect x="77.3" y="309.6" width="3.2" height="26.2" rx="0.6"/><rect x="97.3" y="321.0" width="3.2" height="3.3" rx="0.6"/><rect x="101.3" y="324.3" width="3.2" height="7.7" rx="0.6"/><rect x="109.3" y="331.0" width="3.2" height="1.5" rx="0.6"/><rect x="113.3" y="331.9" width="3.2" height="1.2" rx="0.6"/><rect x="129.3" y="314.0" width="3.2" height="5.4" rx="0.6"/><rect x="141.3" y="317.0" width="3.2" height="5.7" rx="0.6"/><rect x="157.3" y="319.3" width="3.2" height="1.2" rx="0.6"/><rect x="165.3" y="316.6" width="3.2" height="4.9" rx="0.6"/><rect x="169.3" y="320.9" width="3.2" height="1.2" rx="0.6"/><rect x="173.3" y="321.5" width="3.2" height="14.8" rx="0.6"/><rect x="177.3" y="336.3" width="3.2" height="6.9" rx="0.6"/><rect x="181.3" y="343.2" width="3.2" height="5.8" rx="0.6"/><rect x="185.3" y="349.0" width="3.2" height="4.4" rx="0.6"/><rect x="189.3" y="353.4" width="3.2" height="11.5" rx="0.6"/><rect x="205.3" y="350.0" width="3.2" height="3.0" rx="0.6"/><rect x="209.3" y="353.0" width="3.2" height="17.8" rx="0.6"/><rect x="221.3" y="348.4" width="3.2" height="1.2" rx="0.6"/><rect x="225.3" y="349.0" width="3.2" height="10.0" rx="0.6"/><rect x="245.3" y="337.3" width="3.2" height="3.9" rx="0.6"/><rect x="253.3" y="336.0" width="3.2" height="7.0" rx="0.6"/><rect x="261.3" y="333.9" width="3.2" height="1.2" rx="0.6"/><rect x="273.3" y="319.2" width="3.2" height="1.2" rx="0.6"/><rect x="277.3" y="319.9" width="3.2" height="1.2" rx="0.6"/><rect x="281.3" y="321.0" width="3.2" height="3.0" rx="0.6"/><rect x="285.3" y="324.0" width="3.2" height="4.0" rx="0.6"/><rect x="289.3" y="328.0" width="3.2" height="8.0" rx="0.6"/><rect x="297.3" y="327.0" width="3.2" height="1.7" rx="0.6"/><rect x="301.3" y="328.7" width="3.2" height="6.3" rx="0.6"/><rect x="305.3" y="335.0" width="3.2" height="3.0" rx="0.6"/><rect x="317.3" y="325.0" width="3.2" height="3.0" rx="0.6"/><rect x="321.3" y="328.0" width="3.2" height="2.7" rx="0.6"/><rect x="325.3" y="330.7" width="3.2" height="2.3" rx="0.6"/><rect x="357.3" y="321.0" width="3.2" height="1.2" rx="0.6"/><rect x="373.3" y="308.8" width="3.2" height="1.2" rx="0.6"/><rect x="389.3" y="298.4" width="3.2" height="1.2" rx="0.6"/><rect x="393.3" y="299.1" width="3.2" height="1.2" rx="0.6"/><rect x="397.3" y="300.2" width="3.2" height="3.8" rx="0.6"/><rect x="405.3" y="303.0" width="3.2" height="6.0" rx="0.6"/><rect x="413.3" y="305.0" width="3.2" height="4.0" rx="0.6"/><rect x="425.3" y="304.3" width="3.2" height="1.2" rx="0.6"/><rect x="433.3" y="304.0" width="3.2" height="6.0" rx="0.6"/><rect x="437.3" y="310.0" width="3.2" height="5.0" rx="0.6"/><rect x="501.2" y="277.6" width="3.2" height="2.9" rx="0.6"/><rect x="505.2" y="280.1" width="3.2" height="1.2" rx="0.6"/><rect x="509.2" y="280.4" width="3.2" height="1.2" rx="0.6"/><rect x="517.2" y="280.0" width="3.2" height="2.0" rx="0.6"/><rect x="521.2" y="282.0" width="3.2" height="2.0" rx="0.6"/><rect x="533.2" y="276.4" width="3.2" height="1.2" rx="0.6"/><rect x="541.2" y="275.4" width="3.2" height="1.2" rx="0.6"/><rect x="565.2" y="261.0" width="3.2" height="4.5" rx="0.6"/><rect x="569.2" y="264.9" width="3.2" height="1.2" rx="0.6"/><rect x="577.2" y="265.0" width="3.2" height="2.4" rx="0.6"/><rect x="585.2" y="265.1" width="3.2" height="1.2" rx="0.6"/><rect x="589.2" y="265.6" width="3.2" height="1.2" rx="0.6"/><rect x="593.2" y="265.9" width="3.2" height="1.2" rx="0.6"/><rect x="613.2" y="259.9" width="3.2" height="1.2" rx="0.6"/><rect x="617.2" y="260.5" width="3.2" height="4.0" rx="0.6"/><rect x="621.2" y="264.5" width="3.2" height="3.5" rx="0.6"/><rect x="633.2" y="264.0" width="3.2" height="5.0" rx="0.6"/><rect x="637.2" y="268.9" width="3.2" height="1.2" rx="0.6"/><rect x="649.2" y="261.9" width="3.2" height="1.2" rx="0.6"/><rect x="653.2" y="263.0" width="3.2" height="10.0" rx="0.6"/><rect x="657.2" y="272.4" width="3.2" height="1.2" rx="0.6"/><rect x="673.2" y="257.7" width="3.2" height="1.2" rx="0.6"/><rect x="677.2" y="258.2" width="3.2" height="1.2" rx="0.6"/><rect x="697.2" y="233.0" width="3.2" height="3.6" rx="0.6"/><rect x="705.2" y="235.0" width="3.2" height="1.2" rx="0.6"/><rect x="713.2" y="235.2" width="3.2" height="2.0" rx="0.6"/><rect x="717.2" y="236.6" width="3.2" height="1.2" rx="0.6"/><rect x="745.2" y="196.7" width="3.2" height="1.2" rx="0.6"/><rect x="757.2" y="192.4" width="3.2" height="3.9" rx="0.6"/><rect x="761.2" y="196.2" width="3.2" height="1.2" rx="0.6"/><rect x="765.2" y="197.2" width="3.2" height="1.2" rx="0.6"/><rect x="773.2" y="196.0" width="3.2" height="1.2" rx="0.6"/><rect x="777.2" y="196.9" width="3.2" height="5.3" rx="0.6"/><rect x="781.2" y="201.6" width="3.2" height="1.2" rx="0.6"/><rect x="785.2" y="201.6" width="3.2" height="1.2" rx="0.6"/><rect x="797.2" y="199.3" width="3.2" height="2.3" rx="0.6"/><rect x="809.2" y="196.3" width="3.2" height="3.0" rx="0.6"/><rect x="813.2" y="199.2" width="3.2" height="1.2" rx="0.6"/><rect x="817.2" y="199.9" width="3.2" height="1.2" rx="0.6"/><rect x="821.2" y="200.4" width="3.2" height="1.2" rx="0.6"/><rect x="825.2" y="200.6" width="3.2" height="1.2" rx="0.6"/><rect x="829.2" y="201.2" width="3.2" height="5.0" rx="0.6"/><rect x="837.2" y="173.6" width="3.2" height="2.0" rx="0.6"/><rect x="845.2" y="169.7" width="3.2" height="9.9" rx="0.6"/><rect x="853.2" y="179.0" width="3.2" height="10.0" rx="0.6"/><rect x="865.2" y="175.0" width="3.2" height="2.0" rx="0.6"/><rect x="869.2" y="177.0" width="3.2" height="3.0" rx="0.6"/><rect x="885.2" y="171.0" width="3.2" height="10.0" rx="0.6"/><rect x="905.2" y="164.3" width="3.2" height="3.0" rx="0.6"/><rect x="921.2" y="149.5" width="3.2" height="1.2" rx="0.6"/><rect x="929.2" y="143.0" width="3.2" height="1.2" rx="0.6"/></g>
<polyline points="43.0,311.0 49.7,317.0 55.0,316.5 61.2,304.0 71.0,286.0 74.3,290.8 79.3,258.0 85.8,261.0 90.8,246.0 94.7,226.7 99.0,240.0 105.5,235.6 110.5,240.9 118.7,221.0 123.6,226.7 128.5,223.4 131.8,214.6 138.4,209.3 146.6,195.5 151.5,193.9 159.7,187.3 166.3,189.6 171.2,158.8 174.5,148.9 179.4,151.2 184.3,158.8 187.6,157.8 194.2,147.9 197.5,144.6 202.4,145.3 207.3,150.2 210.6,151.2 217.8,161.0 223.8,160.0 226.6,159.4 231.5,162.0 235.8,157.8 243.0,166.0 247.0,168.6 251.2,175.8 255.5,165.3 261.0,174.2 264.3,177.5 267.6,174.2 270.9,199.5 279.1,166.0 283.0,161.0 287.3,145.6 290.6,150.2 295.5,145.6 300.5,145.6 303.7,148.0 307.0,138.0 311.3,135.4 315.9,138.0 325.0,136.4 331.0,133.8 335.0,152.8 338.9,152.8 346.4,172.5 351.4,174.2 355.3,168.6 358.6,157.8 362.9,158.8 367.1,157.8 371.0,171.9 375.0,165.3 379.3,165.3 383.2,181.7 390.8,185.0 395.7,185.7 400.0,193.9 403.9,193.9 415.4,182.4 419.9,190.2 424.8,192.2 431.3,198.8 442.8,183.0 446.8,184.6 451.0,184.6 459.3,250.3 463.2,243.7 467.5,252.0 471.7,265.7 479.0,274.3 482.9,272.3 487.2,273.3 492.1,276.6 498.7,280.9 503.6,279.9 508.5,282.2 515.0,279.9 520.0,286.4 526.6,284.1 531.5,275.0 539.7,277.6 543.0,270.0 547.0,262.5 550.2,276.6 556.1,288.0 558.4,284.8 562.7,311.0 567.0,284.1 571.0,288.0 577.5,286.4 584.0,290.7 592.3,289.7 596.5,294.6 600.5,303.8 603.8,309.4 609.9,312.0 614.8,311.4 618.0,319.6 623.0,318.0 627.0,323.5 631.2,323.5 637.8,306.4 642.7,304.1 647.0,326.0 650.9,318.0 657.5,278.5 661.7,282.5 667.3,319.6 673.9,314.6 678.8,314.0 687.0,312.0 691.3,304.8 695.2,314.0 700.2,310.7 703.4,313.0 708.4,301.5 714.3,295.6 718.9,305.4 726.4,293.3 731.4,297.6 735.3,298.2 739.6,308.0 743.5,306.4 746.1,314.6 751.0,304.1 756.0,309.7 760.9,317.3 767.5,327.1 770.8,322.9 777.3,322.9 787.2,315.3 793.8,321.2 800.7,322.3 807.6,325.5 812.2,324.6 819.0,314.0 826.0,309.4 830.6,297.0 835.2,384.4 843.4,349.9 846.7,274.0 851.3,271.7 858.2,240.5 865.0,249.7 872.0,251.0 878.9,245.0 883.4,249.7 887.1,229.4 892.6,230.3 895.9,224.8 901.8,228.0 908.7,228.0 914.3,258.9 918.9,253.3 923.4,234.0 927.1,253.3 931.7,241.8" fill="none" stroke="#b86a32" stroke-width="2.1" stroke-linejoin="round"/>
<g class="ax" style="font-size:8px" fill="#333" text-anchor="middle"><text x="81.5" y="364.3">144.156</text><text x="97.9" y="314.2">144.792</text><text x="125.8" y="307.3">144.914</text><text x="117.6" y="349.5">144.412</text><text x="165.4" y="306.3">144.934</text><text x="145.7" y="343.1">144.526</text><text x="220.6" y="341.0">144.334</text><text x="214.0" y="400.9">143.526</text><text x="273.2" y="311.0">144.845</text><text x="313.8" y="320.1">144.701</text><text x="310.1" y="350.4">144.384</text><text x="390.1" y="294.8">145.140</text><text x="406.4" y="324.6">144.850</text><text x="453.8" y="338.7">144.597</text><text x="497.7" y="264.2">145.669</text><text x="525.6" y="302.1">145.235</text><text x="557.1" y="256.3">145.803</text><text x="613.7" y="252.4">145.861</text><text x="650.3" y="256.5">145.792</text><text x="593.4" y="283.6">145.548</text><text x="625.9" y="287.1">145.499</text><text x="657.6" y="290.4">145.425</text><text x="697.7" y="222.1">146.388</text><text x="753.8" y="188.2">146.969</text><text x="805.5" y="192.1">146.902</text><text x="781.7" y="219.2">146.670</text><text x="837.2" y="148.2">147.672</text><text x="837.8" y="232.2">146.447</text></g>
<!-- economic ticks -->
<g fill="#4ce04c"><rect x="762" y="57" width="3" height="2"/><rect x="782" y="57" width="3" height="2"/><rect x="810" y="57" width="3" height="2"/><rect x="834" y="57" width="3" height="2"/><rect x="846" y="57" width="3" height="2"/><rect x="878" y="57" width="3" height="2"/><rect x="882" y="57" width="3" height="2"/><rect x="906" y="57" width="3" height="2"/><rect x="918" y="57" width="3" height="2"/></g>
<!-- MACD -->
<g fill="#5ae65a"><rect x="11.4" y="491.1" width="3.3" height="2.2"/><rect x="15.4" y="491.4" width="3.3" height="1.9"/><rect x="19.4" y="491.7" width="3.3" height="1.6"/><rect x="23.4" y="491.7" width="3.3" height="1.6"/><rect x="27.4" y="491.8" width="3.3" height="1.5"/><rect x="31.4" y="491.8" width="3.3" height="1.5"/><rect x="35.4" y="491.9" width="3.3" height="1.4"/><rect x="39.4" y="491.8" width="3.3" height="1.5"/><rect x="43.4" y="491.6" width="3.3" height="1.7"/><rect x="47.4" y="491.4" width="3.3" height="1.9"/><rect x="51.4" y="491.1" width="3.3" height="2.2"/><rect x="55.4" y="490.9" width="3.3" height="2.4"/><rect x="59.4" y="490.5" width="3.3" height="2.8"/><rect x="63.4" y="490.0" width="3.3" height="3.3"/><rect x="67.4" y="491.8" width="3.3" height="1.5"/><rect x="119.4" y="492.4" width="3.3" height="1.0"/><rect x="123.4" y="491.7" width="3.3" height="1.6"/><rect x="127.4" y="491.2" width="3.3" height="2.1"/><rect x="131.4" y="490.6" width="3.3" height="2.7"/><rect x="135.4" y="490.5" width="3.3" height="2.8"/><rect x="139.4" y="491.0" width="3.3" height="2.3"/><rect x="143.4" y="491.4" width="3.3" height="1.9"/><rect x="147.4" y="492.0" width="3.3" height="1.3"/><rect x="151.4" y="492.5" width="3.3" height="0.8"/><rect x="155.4" y="492.6" width="3.3" height="0.7"/><rect x="159.4" y="492.6" width="3.3" height="0.7"/><rect x="163.4" y="492.7" width="3.3" height="0.6"/><rect x="223.4" y="492.3" width="3.3" height="1.0"/><rect x="227.4" y="492.0" width="3.3" height="1.3"/><rect x="231.4" y="491.6" width="3.3" height="1.7"/><rect x="235.4" y="490.5" width="3.3" height="2.8"/><rect x="239.4" y="489.2" width="3.3" height="4.1"/><rect x="243.4" y="487.4" width="3.3" height="5.9"/><rect x="247.4" y="485.6" width="3.3" height="7.7"/><rect x="251.4" y="485.6" width="3.3" height="7.7"/><rect x="255.4" y="485.6" width="3.3" height="7.7"/><rect x="259.4" y="485.6" width="3.3" height="7.7"/><rect x="263.4" y="485.6" width="3.3" height="7.7"/><rect x="267.4" y="485.6" width="3.3" height="7.7"/><rect x="271.4" y="485.6" width="3.3" height="7.7"/><rect x="275.4" y="485.6" width="3.3" height="7.7"/><rect x="279.4" y="485.6" width="3.3" height="7.7"/><rect x="283.4" y="487.8" width="3.3" height="5.6"/><rect x="287.4" y="489.8" width="3.3" height="3.6"/><rect x="291.4" y="491.0" width="3.3" height="2.3"/><rect x="295.4" y="492.1" width="3.3" height="1.2"/><rect x="299.4" y="492.8" width="3.3" height="0.5"/><rect x="343.4" y="492.9" width="3.3" height="0.4"/><rect x="347.4" y="492.3" width="3.3" height="1.0"/><rect x="351.4" y="492.0" width="3.3" height="1.3"/><rect x="355.4" y="491.7" width="3.3" height="1.6"/><rect x="359.4" y="491.4" width="3.3" height="1.9"/><rect x="363.4" y="491.0" width="3.3" height="2.3"/><rect x="367.4" y="490.5" width="3.3" height="2.8"/><rect x="371.4" y="490.2" width="3.3" height="3.1"/><rect x="375.4" y="489.8" width="3.3" height="3.5"/><rect x="379.4" y="489.6" width="3.3" height="3.7"/><rect x="383.4" y="489.4" width="3.3" height="3.9"/><rect x="387.4" y="489.2" width="3.3" height="4.1"/><rect x="391.4" y="489.8" width="3.3" height="3.5"/><rect x="395.4" y="490.8" width="3.3" height="2.5"/><rect x="399.4" y="491.9" width="3.3" height="1.4"/><rect x="459.4" y="491.8" width="3.3" height="1.5"/><rect x="463.4" y="491.1" width="3.3" height="2.2"/><rect x="467.4" y="490.5" width="3.3" height="2.8"/><rect x="471.4" y="490.1" width="3.3" height="3.2"/><rect x="475.4" y="489.8" width="3.3" height="3.5"/><rect x="479.4" y="489.7" width="3.3" height="3.6"/><rect x="483.4" y="489.9" width="3.3" height="3.4"/><rect x="487.4" y="490.2" width="3.3" height="3.1"/><rect x="491.4" y="490.4" width="3.3" height="2.9"/><rect x="495.4" y="490.6" width="3.3" height="2.7"/><rect x="499.4" y="490.9" width="3.3" height="2.4"/><rect x="503.4" y="491.3" width="3.3" height="2.0"/><rect x="507.4" y="491.8" width="3.3" height="1.5"/><rect x="511.4" y="492.8" width="3.3" height="0.5"/><rect x="551.4" y="491.8" width="3.3" height="1.5"/><rect x="555.4" y="491.6" width="3.3" height="1.7"/><rect x="559.4" y="491.4" width="3.3" height="1.9"/><rect x="563.4" y="491.5" width="3.3" height="1.8"/><rect x="567.4" y="491.9" width="3.3" height="1.4"/><rect x="571.4" y="492.4" width="3.3" height="0.9"/><rect x="671.4" y="492.1" width="3.3" height="1.2"/><rect x="675.4" y="491.8" width="3.3" height="1.5"/><rect x="679.4" y="491.6" width="3.3" height="1.7"/><rect x="683.4" y="490.9" width="3.3" height="2.4"/><rect x="687.4" y="490.2" width="3.3" height="3.1"/><rect x="691.4" y="489.4" width="3.3" height="3.9"/><rect x="695.4" y="488.3" width="3.3" height="5.0"/><rect x="699.4" y="487.6" width="3.3" height="5.7"/><rect x="703.4" y="487.3" width="3.3" height="6.0"/><rect x="707.4" y="487.9" width="3.3" height="5.4"/><rect x="711.4" y="488.9" width="3.3" height="4.4"/><rect x="715.4" y="490.0" width="3.3" height="3.3"/><rect x="719.4" y="490.9" width="3.3" height="2.4"/><rect x="723.4" y="491.5" width="3.3" height="1.8"/><rect x="727.4" y="490.5" width="3.3" height="2.8"/><rect x="731.4" y="489.4" width="3.3" height="3.9"/><rect x="735.4" y="488.1" width="3.3" height="5.2"/><rect x="739.4" y="487.1" width="3.3" height="6.2"/><rect x="743.4" y="486.3" width="3.3" height="7.0"/><rect x="747.4" y="486.4" width="3.3" height="6.9"/><rect x="751.4" y="486.7" width="3.3" height="6.6"/><rect x="755.4" y="487.3" width="3.3" height="6.0"/><rect x="759.4" y="488.8" width="3.3" height="4.5"/><rect x="763.4" y="491.1" width="3.3" height="2.2"/><rect x="767.4" y="492.2" width="3.3" height="1.1"/><rect x="771.4" y="492.8" width="3.3" height="0.5"/><rect x="835.4" y="492.0" width="3.3" height="1.3"/><rect x="839.4" y="490.0" width="3.3" height="3.3"/><rect x="843.4" y="489.4" width="3.3" height="3.9"/><rect x="847.4" y="489.8" width="3.3" height="3.5"/><rect x="851.4" y="490.7" width="3.3" height="2.6"/><rect x="855.4" y="491.9" width="3.3" height="1.4"/><rect x="859.4" y="492.2" width="3.3" height="1.1"/><rect x="863.4" y="492.5" width="3.3" height="0.8"/><rect x="899.4" y="492.8" width="3.3" height="0.5"/><rect x="903.4" y="492.4" width="3.3" height="0.9"/><rect x="907.4" y="492.0" width="3.3" height="1.3"/><rect x="911.4" y="491.5" width="3.3" height="1.8"/><rect x="915.4" y="490.7" width="3.3" height="2.6"/><rect x="919.4" y="490.0" width="3.3" height="3.3"/><rect x="923.4" y="490.0" width="3.3" height="3.3"/><rect x="927.4" y="490.0" width="3.3" height="3.3"/><rect x="931.4" y="490.7" width="3.3" height="2.6"/></g><g fill="#ec64ec"><rect x="75.4" y="493.3" width="3.3" height="1.8"/><rect x="79.4" y="493.3" width="3.3" height="5.7"/><rect x="83.4" y="493.3" width="3.3" height="7.9"/><rect x="87.4" y="493.3" width="3.3" height="8.0"/><rect x="91.4" y="493.3" width="3.3" height="7.1"/><rect x="95.4" y="493.3" width="3.3" height="5.9"/><rect x="99.4" y="493.3" width="3.3" height="5.1"/><rect x="103.4" y="493.3" width="3.3" height="4.1"/><rect x="107.4" y="493.3" width="3.3" height="2.5"/><rect x="111.4" y="493.3" width="3.3" height="1.0"/><rect x="171.4" y="493.3" width="3.3" height="0.6"/><rect x="175.4" y="493.3" width="3.3" height="2.0"/><rect x="179.4" y="493.3" width="3.3" height="2.9"/><rect x="183.4" y="493.3" width="3.3" height="3.8"/><rect x="187.4" y="493.3" width="3.3" height="5.9"/><rect x="191.4" y="493.3" width="3.3" height="8.6"/><rect x="195.4" y="493.3" width="3.3" height="8.0"/><rect x="199.4" y="493.3" width="3.3" height="7.2"/><rect x="203.4" y="493.3" width="3.3" height="5.7"/><rect x="207.4" y="493.3" width="3.3" height="4.7"/><rect x="211.4" y="493.3" width="3.3" height="4.2"/><rect x="215.4" y="493.3" width="3.3" height="2.6"/><rect x="303.4" y="493.3" width="3.3" height="2.3"/><rect x="307.4" y="493.3" width="3.3" height="2.3"/><rect x="311.4" y="493.3" width="3.3" height="2.3"/><rect x="323.4" y="493.3" width="3.3" height="0.8"/><rect x="327.4" y="493.3" width="3.3" height="1.4"/><rect x="331.4" y="493.3" width="3.3" height="1.1"/><rect x="411.4" y="493.3" width="3.3" height="1.5"/><rect x="415.4" y="493.3" width="3.3" height="1.7"/><rect x="419.4" y="493.3" width="3.3" height="1.9"/><rect x="423.4" y="493.3" width="3.3" height="2.0"/><rect x="427.4" y="493.3" width="3.3" height="2.3"/><rect x="431.4" y="493.3" width="3.3" height="2.7"/><rect x="435.4" y="493.3" width="3.3" height="3.1"/><rect x="439.4" y="493.3" width="3.3" height="3.2"/><rect x="443.4" y="493.3" width="3.3" height="2.9"/><rect x="447.4" y="493.3" width="3.3" height="2.4"/><rect x="451.4" y="493.3" width="3.3" height="1.8"/><rect x="455.4" y="493.3" width="3.3" height="0.6"/><rect x="519.4" y="493.3" width="3.3" height="1.4"/><rect x="523.4" y="493.3" width="3.3" height="1.6"/><rect x="527.4" y="493.3" width="3.3" height="1.6"/><rect x="531.4" y="493.3" width="3.3" height="1.6"/><rect x="535.4" y="493.3" width="3.3" height="0.9"/><rect x="583.4" y="493.3" width="3.3" height="1.0"/><rect x="587.4" y="493.3" width="3.3" height="1.6"/><rect x="591.4" y="493.3" width="3.3" height="1.6"/><rect x="595.4" y="493.3" width="3.3" height="1.6"/><rect x="599.4" y="493.3" width="3.3" height="1.6"/><rect x="603.4" y="493.3" width="3.3" height="1.6"/><rect x="619.4" y="493.3" width="3.3" height="1.6"/><rect x="623.4" y="493.3" width="3.3" height="1.6"/><rect x="627.4" y="493.3" width="3.3" height="1.6"/><rect x="631.4" y="493.3" width="3.3" height="1.8"/><rect x="635.4" y="493.3" width="3.3" height="2.4"/><rect x="639.4" y="493.3" width="3.3" height="2.6"/><rect x="643.4" y="493.3" width="3.3" height="2.3"/><rect x="647.4" y="493.3" width="3.3" height="2.0"/><rect x="651.4" y="493.3" width="3.3" height="2.0"/><rect x="655.4" y="493.3" width="3.3" height="1.9"/><rect x="659.4" y="493.3" width="3.3" height="1.9"/><rect x="663.4" y="493.3" width="3.3" height="1.8"/><rect x="775.4" y="493.3" width="3.3" height="1.9"/><rect x="779.4" y="493.3" width="3.3" height="2.8"/><rect x="783.4" y="493.3" width="3.3" height="3.7"/><rect x="787.4" y="493.3" width="3.3" height="3.8"/><rect x="791.4" y="493.3" width="3.3" height="4.0"/><rect x="795.4" y="493.3" width="3.3" height="4.1"/><rect x="799.4" y="493.3" width="3.3" height="4.1"/><rect x="803.4" y="493.3" width="3.3" height="3.8"/><rect x="807.4" y="493.3" width="3.3" height="3.5"/><rect x="811.4" y="493.3" width="3.3" height="3.2"/><rect x="815.4" y="493.3" width="3.3" height="3.1"/><rect x="819.4" y="493.3" width="3.3" height="3.2"/><rect x="823.4" y="493.3" width="3.3" height="3.4"/><rect x="827.4" y="493.3" width="3.3" height="3.5"/><rect x="831.4" y="493.3" width="3.3" height="3.7"/></g>
<path d="M11.0 487.5C13.3 487.2 19.0 486.5 25.0 486.0C31.0 485.5 40.6 485.2 46.9 484.4C53.1 483.6 57.8 481.3 62.5 481.3C67.2 481.3 71.3 482.6 75.0 484.4C78.7 486.2 80.8 490.4 84.4 492.2C88.1 494.0 91.7 494.2 96.9 495.3C102.1 496.4 109.9 499.0 115.6 499.0C121.3 499.0 124.5 496.3 131.3 495.3C138.1 494.3 149.8 493.5 156.3 493.1C162.8 492.7 165.1 492.0 170.3 493.1C175.5 494.2 182.6 497.6 187.5 500.0C192.4 502.4 195.6 505.6 200.0 507.8C204.4 510.0 209.8 513.1 214.0 513.4C218.2 513.7 220.6 510.6 225.0 509.4C229.4 508.2 234.9 508.1 240.6 506.3C246.3 504.5 252.6 501.9 259.4 498.4C266.2 494.9 275.1 487.2 281.3 485.3C287.6 483.4 292.1 486.6 296.9 486.9C301.7 487.2 304.7 486.4 310.0 486.9C315.3 487.4 322.6 489.6 328.8 490.0C335.1 490.4 340.2 490.2 347.5 489.0C354.8 487.8 365.2 484.5 372.5 482.8C379.8 481.1 385.1 479.1 391.3 479.0C397.6 478.9 404.3 481.4 410.0 482.2C415.7 483.0 419.9 482.7 425.6 483.8C431.3 484.9 439.7 488.0 444.4 489.0C449.1 490.0 449.1 490.5 453.8 489.7C458.5 488.9 465.2 486.2 472.5 484.4C479.8 482.6 490.2 479.6 497.5 479.0C504.8 478.4 509.0 480.1 516.3 480.6C523.6 481.1 534.0 482.4 541.3 482.2C548.6 482.0 553.8 479.8 560.0 479.7C566.2 479.6 571.5 480.5 578.8 481.3C586.1 482.1 596.9 483.6 603.8 484.4C610.7 485.2 614.2 485.2 620.0 486.0C625.8 486.8 632.5 488.2 638.8 489.0C645.0 489.8 650.2 490.9 657.5 490.6C664.8 490.4 675.8 489.1 682.5 487.5C689.2 485.9 693.4 482.9 698.0 481.3C702.6 479.7 705.8 478.9 710.0 477.9C714.2 476.8 717.2 476.6 723.0 475.0C728.8 473.4 739.0 470.1 745.0 468.5C751.0 466.9 754.7 465.9 759.0 465.7C763.3 465.5 765.5 465.7 771.0 467.3C776.5 468.9 784.9 473.5 792.0 475.5C799.1 477.5 807.3 478.1 813.8 479.5C820.2 480.9 826.7 483.6 830.7 483.7C834.7 483.8 834.4 481.4 837.7 480.2C841.0 478.9 847.3 476.5 850.6 476.2C853.9 475.9 851.4 478.1 857.6 478.6C863.8 479.2 878.3 480.0 888.0 479.5C897.7 479.0 908.8 476.5 916.0 475.5C923.2 474.5 928.5 473.9 931.0 473.6" fill="none" stroke="#48b8ea" stroke-width="1.2"/>
<path d="M11.0 490.6C14.4 490.1 23.8 488.4 31.3 487.5C38.9 486.6 49.0 485.8 56.3 485.0C63.6 484.2 68.8 482.1 75.0 482.8C81.2 483.5 87.5 487.2 93.8 489.0C100.0 490.8 107.3 492.5 112.5 493.8C117.7 495.1 119.8 496.6 125.0 496.9C130.2 497.1 136.5 495.9 143.8 495.3C151.1 494.7 161.5 492.9 168.8 493.1C176.1 493.3 181.2 494.4 187.5 496.3C193.8 498.2 200.1 502.4 206.3 504.7C212.6 507.0 219.3 509.5 225.0 510.0C230.7 510.5 234.3 509.5 240.6 507.8C246.8 506.1 255.7 502.9 262.5 500.0C269.3 497.1 274.6 492.9 281.3 490.6C288.1 488.3 296.6 486.5 303.0 486.0C309.4 485.5 314.2 487.0 320.0 487.5C325.8 488.0 330.8 489.2 338.0 489.0C345.2 488.8 352.0 487.4 363.0 486.0C374.0 484.6 393.4 481.1 403.8 480.6C414.2 480.1 416.2 481.6 425.6 482.8C435.0 484.1 450.1 487.9 460.0 488.1C469.9 488.3 476.2 485.1 485.0 483.8C493.8 482.5 503.1 480.6 513.0 480.3C522.9 480.0 533.4 482.0 544.4 482.2C555.4 482.4 567.9 481.2 578.8 481.3C589.7 481.4 601.5 482.0 610.0 482.8C618.5 483.6 624.2 485.2 630.0 486.0C635.8 486.8 638.9 486.7 645.0 487.5C651.1 488.3 659.1 490.4 666.9 490.6C674.7 490.9 684.7 490.1 691.9 489.0C699.1 487.9 704.8 485.2 710.0 483.7C715.2 482.2 717.2 481.6 723.0 480.0C728.8 478.4 736.2 476.5 745.0 474.4C753.8 472.3 765.8 467.1 775.6 467.3C785.4 467.5 794.3 473.4 803.7 475.5C813.1 477.6 820.6 479.9 831.9 480.2C843.2 480.5 858.0 477.4 871.7 477.2C885.4 477.0 904.0 479.1 913.9 479.0C923.8 478.9 928.1 477.1 931.0 476.7" fill="none" stroke="#e84848" stroke-width="1.2"/>
<!-- RSI -->
<polyline points="11.0,552.8 18.8,546.6 25.0,549.7 31.3,552.8 39.0,545.0 43.8,557.5 48.4,551.3 62.5,549.7 67.2,555.9 75.0,557.5 79.7,563.8 93.8,561.6 100.0,561.3 104.7,566.9 115.6,568.4 123.4,560.6 131.3,562.2 137.5,551.3 146.9,558.1 159.4,553.8 170.3,555.0 178.0,566.9 190.6,575.6 203.0,567.5 212.5,573.1 220.3,566.3 228.0,566.9 246.9,552.8 256.3,555.0 262.5,554.4 268.8,547.5 275.0,550.6 282.8,548.1 289.0,552.8 295.3,552.2 307.8,559.1 312.5,555.0 319.4,557.5 327.2,564.7 338.0,561.3 342.8,554.4 353.8,556.6 363.0,548.8 371.0,549.7 383.4,538.8 392.8,540.3 400.6,545.6 406.9,551.3 411.6,549.0 416.3,552.8 422.5,553.8 427.2,557.5 430.3,556.0 439.7,566.9 446.0,564.7 456.9,556.9 466.3,553.8 472.5,550.3 486.6,548.1 496.0,538.1 499.0,538.1 503.8,545.6 513.1,548.1 525.6,552.8 530.3,551.3 535.0,555.3 550.6,554.4 560.0,546.6 567.8,551.3 575.6,549.0 586.6,553.4 591.3,551.3 596.0,553.4 602.2,551.3 613.0,555.9 620.0,562.2 629.4,559.0 638.8,564.4 646.6,557.5 651.3,556.6 656.0,563.8 670.0,558.1 682.5,555.3 687.2,552.8 693.4,546.6 702.8,549.7 710.6,542.5 721.6,544.4 738.8,540.3 748.0,541.9 754.4,539.4 766.9,543.4 773.0,542.5 781.0,548.1 791.9,551.3 799.7,561.6 807.5,559.7 812.2,564.4 816.9,561.6 826.3,562.2 831.0,566.9 835.0,547.5 843.4,547.5 848.0,552.8 856.0,555.9 862.2,554.4 870.0,554.4 882.5,552.2 887.2,553.8 891.3,558.4 899.7,557.5 904.4,553.8 912.2,549.7 920.0,550.3 927.8,547.2 931.0,548.1" fill="none" stroke="#5a96e6" stroke-width="1.1"/>
<!-- axis lines -->
<path d="M965.5 56V453M965.5 456V522M965.5 526V593" stroke="#333" stroke-width="1.2"/>
<g fill="#444" style="font-size:9px">
<g style="font-size:8px"><text x="967.5" y="78.5">149.000</text><text x="967.5" y="136">148.000</text><text x="967.5" y="194">147.000</text><text x="967.5" y="251.5">146.000</text><text x="967.5" y="309.5">145.000</text><text x="967.5" y="367">144.000</text><text x="967.5" y="425">143.000</text></g>
<text x="969" y="496" style="font-size:8px">0</text>
<g style="font-size:8px"><text x="969" y="537.8">100</text><text x="969" y="547.3">80</text><text x="969" y="556.7">60</text><text x="969" y="566.5">40</text><text x="969" y="575.9">20</text><text x="969" y="585.1">0</text></g>
<g style="font-size:8.2px"><text x="8" y="153">3,800.0</text><text x="8" y="237">3,700.0</text><text x="8" y="321.5">3,600.0</text><text x="8" y="406">3,500.0</text><text x="8" y="68">3,900.0</text></g>
<g style="font-size:8px"><text x="11.5" y="468">MACD(12,26,9)</text><text x="11.5" y="536">RSI(14)</text></g>
</g>
<rect x="967" y="139" width="32" height="12" rx="2" fill="#fff" stroke="#444" stroke-width="1"/>
<text x="969" y="148.3" fill="#333" style="font-size:8px">147.792</text>
<g fill="#f0f0f0" style="font-size:8.4px" text-anchor="middle">
<text x="36" y="599">11:00</text><text x="96" y="599">02:00</text><text x="156" y="599">17:00</text><text x="216" y="599">08:00</text><text x="276" y="599">23:00</text><text x="336" y="599">14:00</text><text x="396" y="599">05:00</text><text x="456" y="599">20:00</text><text x="516" y="599">12:00</text><text x="576" y="599">03:00</text><text x="636" y="599">18:00</text><text x="696" y="599">09:00</text><text x="756" y="599">00:00</text><text x="816" y="599">15:00</text><text x="876" y="599">06:00</text><text x="936" y="599">21:00</text>
</g>
<!-- bid/ask box -->
<rect x="10" y="564.5" width="73" height="21" fill="#6a6a6a" fill-opacity="0.92"/>
<rect x="37.5" y="564.5" width="19.5" height="9.5" fill="#000"/>
<path d="M46.5 574V585.5" stroke="#ddd" stroke-width="0.8"/>
<text x="13" y="574" fill="#3cb4e0" style="font-size:8px">Bid</text>
<text x="68" y="574" fill="#e02828" style="font-size:8px">Ask</text>
<text x="41" y="575.5" fill="#fff" style="font-size:8.5px">0.2</text>
<text x="13" y="585" fill="#5a8ee0" style="font-size:7px">147.<tspan style="font-size:9.5px">79</tspan><tspan style="font-size:7px">2</tspan></text>
<text x="49" y="585" fill="#5a8ee0" style="font-size:7px">147.<tspan style="font-size:9.5px">79</tspan><tspan style="font-size:7px">4</tspan></text>
</svg>

<!-- timeframe popup -->
<div class="a" style="left:48px;top:56px;width:275px;height:21px;background:#3a3a3a;border-radius:0 0 3px 3px"></div>
<div class="tf" style="left:50px">T</div><div class="tf" style="left:73px">1</div><div class="tf" style="left:94px">5</div><div class="tf" style="left:115px">10</div><div class="tf" style="left:137px">15</div><div class="tf" style="left:158px">30</div>
<div class="tf" style="left:179px;background:#1a78b4;border:1px solid #7ab8d8;color:#fff;line-height:14.5px">1H</div>
<div class="tf" style="left:201px">4H</div><div class="tf" style="left:222px">8H</div><div class="tf" style="left:243px">D</div><div class="tf" style="left:265px">W</div><div class="tf" style="left:286px">M</div>
<svg width="1024" height="609" style="z-index:4"><rect x="309.5" y="57" width="10" height="8.5" fill="none" stroke="#bbb" stroke-width="1"/><path d="M311.5 58.5L317.5 64M317.5 58.5L311.5 64" stroke="#ccc" stroke-width="1.1"/></svg>
<!-- flag pill -->
<div class="a" style="left:15px;top:63px;width:34px;height:14px;border-radius:7px 0 0 7px;background:#8e0000"></div>
<div class="a" style="left:21.5px;top:65.5px;width:16.5px;height:9.5px;background:linear-gradient(#f4a0a0,#f8d8d8 40%,#f08080 70%,#e84040)"></div>
<div class="a" style="left:21.5px;top:65.5px;width:8px;height:5px;background:#8890d8"></div>
<div class="a" style="left:38px;top:65.5px;width:10px;height:9.5px;background:#f4f4f4"></div>
<div class="a" style="left:43px;top:67px;width:6px;height:6px;border-radius:50%;background:#d83058"></div>
<!-- right tools -->
<div class="rt" style="top:57px;background:#a8c8f0"></div>
<div class="rt" style="top:73px"></div><div class="rt" style="top:88px"></div><div class="rt" style="top:103px"></div><div class="rt" style="top:118px"></div><div class="rt" style="top:132px"></div><div class="rt" style="top:147px"></div><div class="rt" style="top:162px"></div><div class="rt" style="top:177px"></div><div class="rt" style="top:191px"></div><div class="rt" style="top:205px"></div><div class="rt" style="top:220px"></div><div class="rt" style="top:235px"></div><div class="rt" style="top:249px"></div>
<div class="rt" style="top:264px;height:31px;background:linear-gradient(#2050a0,#30a050 50%,#e0e020)"></div>
<svg width="1024" height="609" style="z-index:5">
<path d="M1006.5 65C1006.5 61 1007.5 59.5 1010 59.5C1012.5 59.5 1013.5 61 1013.5 65L1015 67H1005Z" fill="#e4dc48"/><circle cx="1010" cy="59" r="1" fill="#e4dc48"/><circle cx="1010" cy="67.5" r="1.2" fill="#c8c040"/>
<path d="M1007 76L1007 84L1009 82L1011 85L1012 84L1010 81L1013 80Z" fill="#f4f4f4" stroke="#222" stroke-width="0.6"/>
<path d="M1005 99L1015 89" stroke="#e8d020" stroke-width="1.2"/>
<path d="M1005 109.5H1015" stroke="#e8d020" stroke-width="1.5"/>
<path d="M1010 119V130" stroke="#e8d020" stroke-width="1.5"/>
<path d="M1005 143L1014 134" stroke="#e8d020" stroke-width="1.2"/><circle cx="1013" cy="141" r="2.5" fill="#eee"/>
<path d="M1005.5 151A4.5 4.5 0 0 0 1014.5 151M1007 150A3 3 0 0 0 1013 150M1008.5 149.5A1.5 1.5 0 0 0 1011.5 149.5M1005 158L1010 153L1015 157" stroke="#e8d020" stroke-width="0.9" fill="none"/>
<path d="M1005 164.5H1015M1005 167.5H1015M1005 170.5H1015M1005 173H1015" stroke="#e8d020" stroke-width="0.9"/>
<path d="M1005 186.5H1015M1006 183.5H1015M1006 180L1013 180L1006 186" stroke="#e8d020" stroke-width="0.9" fill="none"/>
<path d="M1005 202L1015 193M1005 202L1015 198M1005 202L1011 192M1005 202L1008 192" stroke="#e8d020" stroke-width="0.9"/>
<text x="1007" y="211.5" style="font-size:5px" fill="#fff">10</text>
<rect x="1005" y="213" width="2.5" height="4" fill="#e07010"/><rect x="1008.5" y="213" width="2.5" height="4" fill="#3050d0"/><rect x="1012" y="213" width="2.5" height="4" fill="#e07010"/>
<rect x="1005" y="222" width="3" height="4" fill="#e07010"/><rect x="1005" y="226" width="3" height="5" fill="#3050d0"/><text x="1010" y="229" style="font-size:5px" fill="#fff">10</text>
<path d="M1006.5 244.5L1012.5 238.5L1015 241L1009 247Z" fill="#3a9ae8"/><path d="M1006.5 244.5L1009 247L1007.5 248L1005.5 246Z" fill="#f4f4f4"/>
<path d="M1007 253.5H1014L1013 261H1008Z" fill="#3a7cc0"/><rect x="1006.5" y="252" width="8" height="1.2" fill="#5aa0e0"/>
<text x="1011" y="267" transform="rotate(90 1011 267)" style="font-size:6px;font-weight:bold" fill="#f4f4f4">Line</text>
<text x="1005" y="270" transform="rotate(90 1005 270)" style="font-size:6px;font-weight:bold" fill="#f4f4f4">Color</text>
<rect x="1003" y="552" width="14" height="12" rx="1" fill="#5a6a78"/><rect x="1005" y="554" width="3" height="8" fill="#e02020"/><circle cx="1012" cy="558" r="4" fill="#40a8e0"/><path d="M1010 558H1014M1012 556V560" stroke="#fff" stroke-width="1"/>
<rect x="1003" y="569" width="14" height="12" rx="1" fill="#5a6a78"/><rect x="1005" y="571" width="2" height="8" fill="#e02020"/><circle cx="1012" cy="575" r="4" fill="#40a8e0"/><path d="M1010 575H1014" stroke="#fff" stroke-width="1"/>
<rect x="1003" y="586" width="14" height="12" rx="2" fill="#202020"/><path d="M1005 589.5H1011M1009 587.5L1011.5 589.5L1009 591.5M1008 589.5Q1005 589.5 1005 592.5Q1005 595.5 1008 595.5H1013" stroke="#e02020" stroke-width="1.4" fill="none"/><rect x="1013" y="587" width="1.5" height="5" fill="#c87020"/>
</svg>
</body></html>
